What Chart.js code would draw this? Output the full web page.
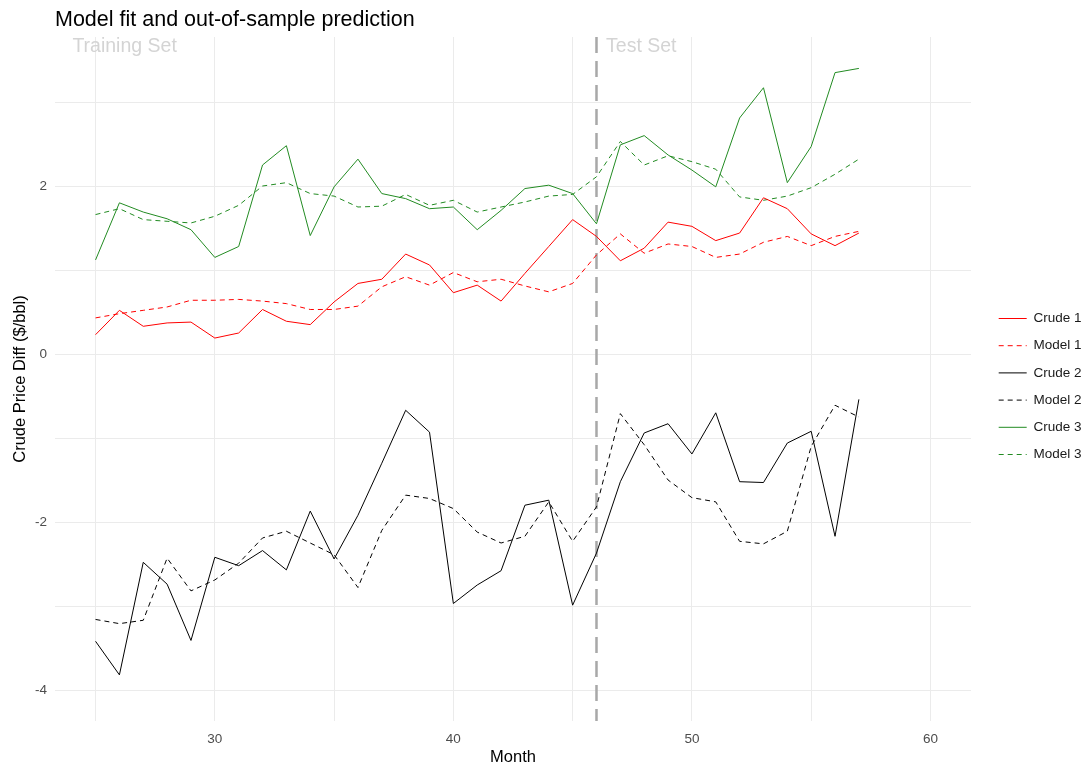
<!DOCTYPE html>
<html>
<head>
<meta charset="utf-8">
<script src="https://cdn.jsdelivr.net/npm/chart.js@4/dist/chart.umd.min.js"></script>
<style>
  html, body { margin: 0; padding: 0; background: #ffffff; }
  #wrap { width: 1086px; height: 764px; }
</style>
</head>
<body>
<div id="wrap"><canvas id="chart" width="1086" height="764"></canvas></div>
<script>
// Months on the x axis
const months = [25, 26, 27, 28, 29, 30, 31, 32, 33, 34, 35, 36, 37, 38, 39, 40, 41,
                42, 43, 44, 45, 46, 47, 48, 49, 50, 51, 52, 53, 54, 55, 56, 57];

// Observed crude price differentials ($/bbl)
const crude1 = [0.23, 0.52, 0.33, 0.37, 0.38, 0.19, 0.25, 0.53, 0.39, 0.35, 0.62,
                0.84, 0.89, 1.19, 1.06, 0.73, 0.82, 0.63, 0.96, 1.28, 1.60,
                1.40, 1.11, 1.26, 1.57, 1.52, 1.35, 1.44, 1.86, 1.73, 1.43, 1.29, 1.44];
const crude2 = [-3.42, -3.82, -2.48, -2.74, -3.41, -2.42, -2.52, -2.34, -2.57, -1.87, -2.44,
                -1.92, -1.30, -0.67, -0.93, -2.97, -2.75, -2.58, -1.80, -1.74, -2.99,
                -2.37, -1.52, -0.94, -0.83, -1.19, -0.70, -1.52, -1.53, -1.06, -0.92, -2.17, -0.54];
const crude3 = [1.12, 1.80, 1.69, 1.61, 1.48, 1.15, 1.28, 2.25, 2.48, 1.41, 1.99,
                2.32, 1.91, 1.85, 1.73, 1.75, 1.48, 1.71, 1.97, 2.01, 1.91,
                1.55, 2.49, 2.60, 2.37, 2.19, 1.99, 2.81, 3.17, 2.04, 2.47, 3.35, 3.40];

// Model fitted / predicted values
const model1 = [0.43, 0.48, 0.52, 0.56, 0.64, 0.64, 0.65, 0.63, 0.60, 0.53, 0.53,
                0.57, 0.80, 0.92, 0.82, 0.97, 0.86, 0.89, 0.81, 0.74, 0.84,
                1.18, 1.43, 1.20, 1.31, 1.28, 1.15, 1.19, 1.33, 1.40, 1.29, 1.40, 1.46];
const model2 = [-3.16, -3.21, -3.17, -2.43, -2.82, -2.69, -2.49, -2.19, -2.11, -2.25, -2.39,
                -2.78, -2.10, -1.68, -1.72, -1.84, -2.12, -2.25, -2.17, -1.76, -2.23,
                -1.82, -0.71, -1.08, -1.50, -1.71, -1.76, -2.23, -2.26, -2.11, -1.10, -0.61, -0.75];
const model3 = [1.66, 1.73, 1.60, 1.58, 1.56, 1.64, 1.77, 2.00, 2.04, 1.91, 1.88,
                1.75, 1.76, 1.90, 1.77, 1.83, 1.69, 1.75, 1.81, 1.88, 1.90,
                2.11, 2.53, 2.25, 2.36, 2.29, 2.20, 1.87, 1.83, 1.88, 1.98, 2.14, 2.32];

// Axis ticks
const xGridValues = [25, 30, 35, 40, 45, 50, 55, 60];
const xTickLabels = [30, 40, 50, 60];
const yGridValues = [-4, -3, -2, -1, 0, 1, 2, 3];
const yTickLabels = [-4, -2, 0, 2];

// Train / test split
const splitMonth = 46;
const regionLabels = [
  { text: 'Training Set', x: 24.03, y: 3.655 },
  { text: 'Test Set', x: 46.4, y: 3.655 }
];

const FONT = '"Liberation Sans", Arial, "DejaVu Sans", sans-serif';
const DASH = [5, 4];

function toPoints(values) {
  return months.map((m, i) => ({ x: m, y: values[i] }));
}

function series(label, values, color, dashed) {
  return {
    label: label,
    data: toPoints(values),
    borderColor: color,
    backgroundColor: color,
    borderWidth: 1,
    borderDash: dashed ? DASH : [],
    pointRadius: 0,
    pointHoverRadius: 0,
    tension: 0,
    fill: false
  };
}

// Dashed split line and the region captions
const splitPlugin = {
  id: 'splitPlugin',
  beforeDatasetsDraw(chart) {
    const { ctx, chartArea, scales } = chart;
    const px = scales.x.getPixelForValue(splitMonth);
    ctx.save();
    ctx.strokeStyle = '#a8a8a8';
    ctx.lineWidth = 2.5;
    ctx.setLineDash([16, 8]);
    ctx.beginPath();
    ctx.moveTo(px, chartArea.top);
    ctx.lineTo(px, chartArea.bottom);
    ctx.stroke();
    ctx.setLineDash([]);
    ctx.fillStyle = '#d4d4d4';
    ctx.font = '19.5px ' + FONT;
    ctx.textAlign = 'left';
    ctx.textBaseline = 'middle';
    regionLabels.forEach(l => {
      ctx.fillText(l.text, scales.x.getPixelForValue(l.x), scales.y.getPixelForValue(l.y));
    });
    ctx.restore();
  }
};

// Legend entries carry each dataset's own line style
function legendLabels(chart) {
  const items = Chart.defaults.plugins.legend.labels.generateLabels(chart);
  return items.map(item => {
    const ds = chart.data.datasets[item.datasetIndex];
    item.lineDash = ds.borderDash;
    item.lineWidth = ds.borderWidth;
    item.strokeStyle = ds.borderColor;
    item.fillStyle = ds.borderColor;
    item.pointStyle = 'line';
    return item;
  });
}

new Chart(document.getElementById('chart'), {
  type: 'line',
  data: {
    datasets: [
      series('Crude 1', crude1, '#ff0000', false),
      series('Model 1', model1, '#ff0000', true),
      series('Crude 2', crude2, '#000000', false),
      series('Model 2', model2, '#000000', true),
      series('Crude 3', crude3, '#228b22', false),
      series('Model 3', model3, '#228b22', true)
    ]
  },
  options: {
    responsive: false,
    animation: false,
    devicePixelRatio: 1,
    layout: { padding: 0 },
    scales: {
      x: {
        type: 'linear',
        min: 23.3,
        max: 61.7,
        afterBuildTicks: s => { s.ticks = xGridValues.map(v => ({ value: v })); },
        afterFit: s => { s.height = 43; },
        grid: { color: '#ebebeb', lineWidth: 1, drawTicks: false },
        border: { display: false },
        ticks: {
          padding: 10.5,
          color: '#4d4d4d',
          font: { family: FONT, size: 13.5 },
          maxRotation: 0,
          autoSkip: false,
          callback: v => (xTickLabels.includes(v) ? String(v) : '')
        },
        title: {
          display: true,
          text: 'Month',
          color: '#000000',
          font: { family: FONT, size: 16.5, lineHeight: 1 },
          padding: { top: 0, bottom: -1.5 }
        }
      },
      y: {
        type: 'linear',
        position: 'left',
        min: -4.369,
        max: 3.774,
        afterBuildTicks: s => { s.ticks = yGridValues.map(v => ({ value: v })); },
        afterFit: s => { s.width = 55; },
        grid: { color: '#ebebeb', lineWidth: 1, drawTicks: false },
        border: { display: false },
        ticks: {
          padding: 8,
          color: '#4d4d4d',
          font: { family: FONT, size: 13.5 },
          autoSkip: false,
          callback: v => (yTickLabels.includes(v) ? String(v) : '')
        },
        title: {
          display: true,
          text: 'Crude Price Diff ($/bbl)',
          color: '#000000',
          font: { family: FONT, size: 16.5, lineHeight: 1 },
          padding: { top: 12, bottom: 0 }
        }
      },
      gap: {
        type: 'linear',
        position: 'right',
        display: true,
        afterFit: s => { s.width = 14; },
        grid: { display: false, drawTicks: false },
        border: { display: false },
        ticks: { display: false }
      }
    },
    plugins: {
      title: {
        display: true,
        text: 'Model fit and out-of-sample prediction',
        align: 'start',
        fullSize: false,
        color: '#000000',
        font: { family: FONT, size: 21.5, weight: 'normal', lineHeight: 1.2 },
        padding: { top: 7.5, bottom: 3.7 }
      },
      legend: {
        display: true,
        position: 'right',
        align: 'center',
        maxWidth: 101,
        title: {
          display: true,
          text: ' ',
          padding: 0,
          font: { family: FONT, size: 9, lineHeight: 1 }
        },
        labels: {
          usePointStyle: true,
          pointStyle: 'line',
          pointStyleWidth: 28,
          padding: 13.7,
          color: '#1a1a1a',
          font: { family: FONT, size: 13.5 },
          generateLabels: legendLabels
        }
      },
      tooltip: { enabled: false }
    }
  },
  plugins: [splitPlugin]
});
</script>
</body>
</html>
